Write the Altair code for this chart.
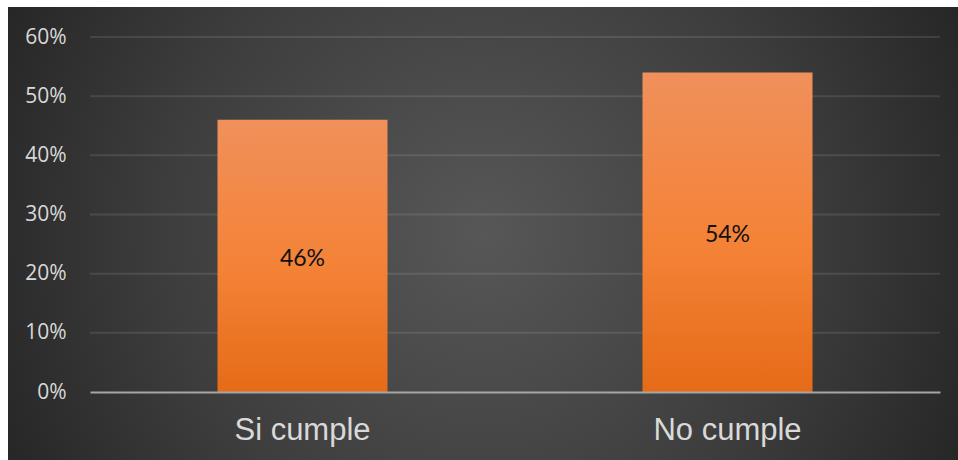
import altair as alt
import pandas as pd

categories = ["Si cumple", "No cumple"]
values = [0.46, 0.54]
grid_values = [0.1, 0.2, 0.3, 0.4, 0.5, 0.6]
tick_values = [0, 0.1, 0.2, 0.3, 0.4, 0.5, 0.6]

df = pd.DataFrame({"cat": categories, "val": values})
grid_df = pd.DataFrame({"g": grid_values})
panel_df = pd.DataFrame({"p": [0]})

x_scale = alt.Scale(domain=categories, paddingInner=0.6, paddingOuter=0.3)
y_scale = alt.Scale(domain=[0, 0.6], nice=False, zero=True)

y_axis = alt.Axis(
    values=tick_values, format=".0%", grid=False, domain=False,
    ticks=False, labelPadding=24, labelFont="Open Sans",
    labelFontSize=21, labelColor="#d9d9d9", zindex=1,
)

panel_fill = alt.RadialGradient(
    gradient="radial",
    x1=0.5, y1=0.5, r1=0,
    x2=0.5, y2=0.5, r2=0.56,
    stops=[
        alt.GradientStop(color="#575757", offset=0),
        alt.GradientStop(color="#3d3d3d", offset=0.6),
        alt.GradientStop(color="#262626", offset=1),
    ],
)

bar_fill = alt.LinearGradient(
    gradient="linear",
    x1=0, y1=0, x2=0, y2=1,
    stops=[
        alt.GradientStop(color="#F0905B", offset=0),
        alt.GradientStop(color="#F48236", offset=0.55),
        alt.GradientStop(color="#E56B18", offset=1),
    ],
)

panel = alt.Chart(panel_df).mark_rect(fill=panel_fill).encode(
    x=alt.value(-82), x2=alt.value(868), y=alt.value(-30), y2=alt.value(423)
)

grid = alt.Chart(grid_df).mark_rule(color="#ffffff", opacity=0.1, strokeWidth=2).encode(
    y=alt.Y("g:Q", scale=y_scale, title=None, axis=y_axis)
)

bars = alt.Chart(df).mark_bar(fill=bar_fill).encode(
    x=alt.X(
        "cat:N", scale=x_scale, sort=categories, title=None,
        axis=alt.Axis(
            labelAngle=0, domain=True, domainColor="#a6a6a6", domainWidth=2,
            ticks=False, labelPadding=23, labelFont="Liberation Sans",
            labelFontSize=31, labelColor="#d9d9d9", zindex=1,
        ),
    ),
    y=alt.Y("val:Q", scale=y_scale, title=None, axis=y_axis),
)

text = alt.Chart(df).transform_calculate(mid="datum.val / 2").mark_text(
    font="Lato", fontSize=23, color="#111111", baseline="middle", dy=3
).encode(
    x=alt.X("cat:N", scale=x_scale, sort=categories),
    y=alt.Y("mid:Q", scale=y_scale),
    text=alt.Text("val:Q", format=".0%"),
)

chart = alt.layer(panel, grid, bars, text).properties(
    width=850,
    height=355,
    padding={"left": 90, "top": 37, "right": 18, "bottom": 68},
    autosize=alt.AutoSizeParams(type="none"),
    background="white",
).configure_view(stroke=None)

chart.save("out.html", embed_options={"renderer": "svg", "actions": False})
